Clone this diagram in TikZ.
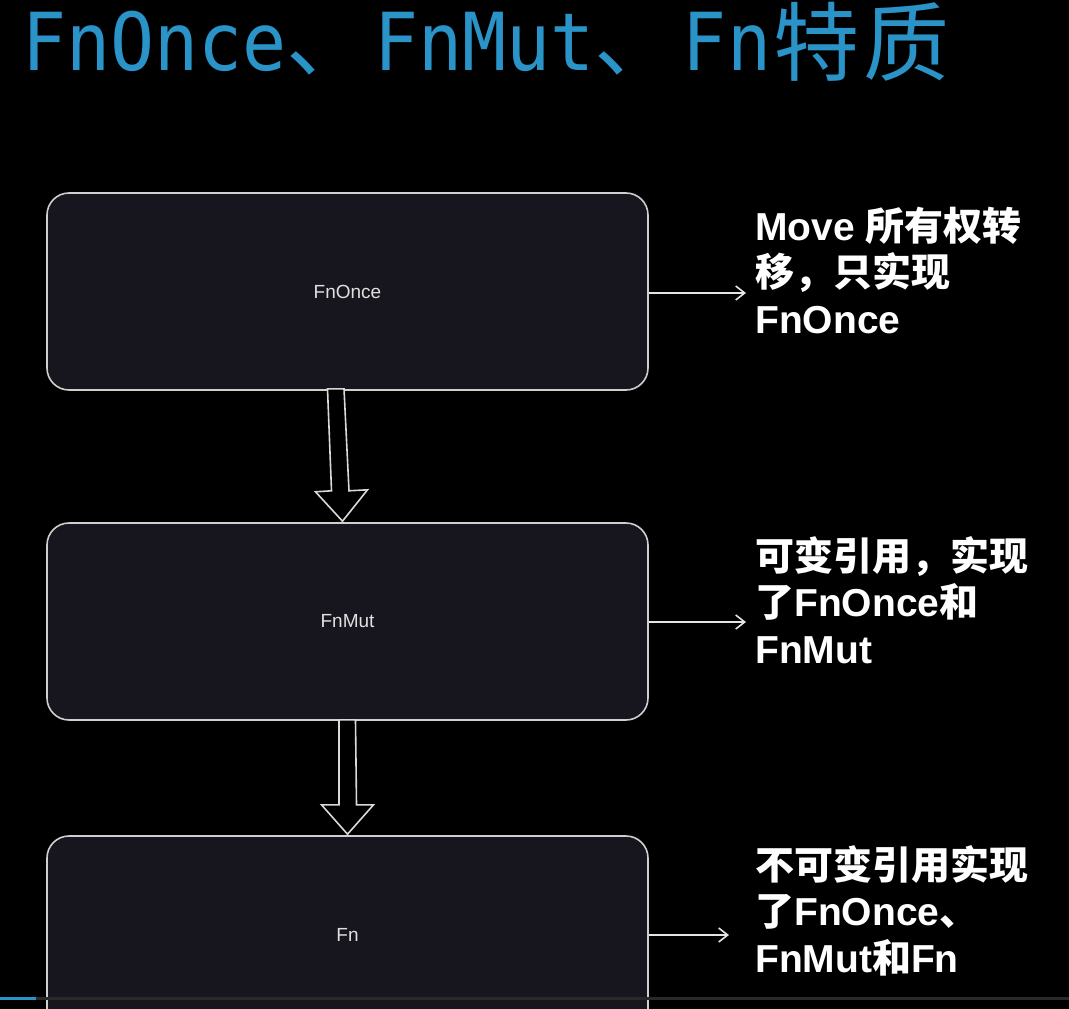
\documentclass[tikz,border=0pt]{standalone}
\usepackage{fontspec}
\usetikzlibrary{arrows.meta,calc}
\setmainfont{Liberation Sans}
\newfontfamily\cjk{Noto Sans CJK SC}
\newfontfamily\titlemono[FakeStretch=0.915]{DejaVu Sans Mono}
\definecolor{titleblue}{HTML}{2A93C8}
\definecolor{boxfill}{HTML}{17151E}
\definecolor{boxline}{HTML}{CFCFCF}
\newcommand{\zh}[1]{{\cjk\bfseries #1}}
\newcommand{\titlecjk}[2]{\makebox[#1][c]{\raisebox{-5pt}{\cjk\fontsize{86}{90}\selectfont #2}}}
\begin{document}
\begin{tikzpicture}[x=1pt,y=-1pt,
  trait/.style={draw=boxline,line width=1.6pt,fill=boxfill,rounded corners=22pt,
    minimum width=601pt,minimum height=197pt,inner sep=0pt,
    font=\fontsize{19}{22}\selectfont,text=white!88!black},
  blockarrow/.style={draw=white!85!black,line width=1.6pt,fill=black,line join=miter},
  sidearrow/.style={draw=white!90!black,line width=1.6pt,-{Straight Barb[length=9pt,width=14pt,line width=1.6pt]}},
  note/.style={anchor=base west,inner sep=0pt,text=white,align=left,
    font=\fontsize{39}{46.5}\selectfont\bfseries}]
\useasboundingbox (0,0) rectangle (1069,1009);
\fill[black] (0,0) rectangle (1069,1009);
\begin{scope}
\clip (0,0) rectangle (1069,1009);
% title
\node[anchor=base west,inner sep=0pt,text=titleblue] (title) at (22,70)
  {\titlemono\fontsize{80}{90}\selectfont FnOnce\makebox[88pt][l]{\cjk\fontsize{84}{90}\selectfont 、}FnMut\makebox[88pt][l]{\cjk\fontsize{84}{90}\selectfont 、}Fn\titlecjk{90pt}{特}\titlecjk{90pt}{质}};
% boxes
\node[trait] (fnonce) at (347.5,291.5) {FnOnce};
\node[trait] (fnmut) at (347.5,621.5) {FnMut};
\node[trait] (fn) at (347.5,934.5) {Fn};
% block arrows
\draw[blockarrow] ($(fnonce.south)+(-20,-2)$) -- ($(fnonce.south)+(-16,100)$) -- ($(fnonce.south)+(-32,101)$)
  -- ($(fnmut.north)+(-5,-1)$) -- ($(fnonce.south)+(20,99)$) -- ($(fnonce.south)+(1.5,100)$)
  -- ($(fnonce.south)+(-3.5,-2)$) -- cycle;
\draw[blockarrow] ($(fnmut.south)+(-8.5,-1)$) -- ($(fnmut.south)+(-8.5,84)$) -- ($(fnmut.south)+(-26,84)$)
  -- ($(fn.north)+(0,-1)$) -- ($(fnmut.south)+(26,84)$) -- ($(fnmut.south)+(9,84)$)
  -- ($(fnmut.south)+(8,-1)$) -- cycle;
% notes
\coordinate (n1) at (746,293);
\coordinate (n2) at (746,622);
\coordinate (n3) at (729,935);
\draw[sidearrow] (fnonce.east |- n1) -- (n1);
\draw[sidearrow] (fnmut.east |- n2) -- (n2);
\draw[sidearrow] (fn.east |- n3) -- (n3);
\node[note] (t1) at (755,333) {Move \zh{所有权转}\\\zh{移，只实现}\\FnOnce};
\node[note] (t2) at (755,663) {\zh{可变引用，实现}\\\zh{了}FnOnce\zh{和}\\FnMut};
\node[note] (t3) at (755,972) {\zh{不可变引用实现}\\\zh{了}FnOnce\zh{、}\\FnMut\zh{和}Fn};
% video progress bar
\fill[white!16!black] (36,997) rectangle (1069,999.5);
\fill[titleblue] (0,996.5) rectangle (36,1000);
\end{scope}
\end{tikzpicture}
\end{document}
